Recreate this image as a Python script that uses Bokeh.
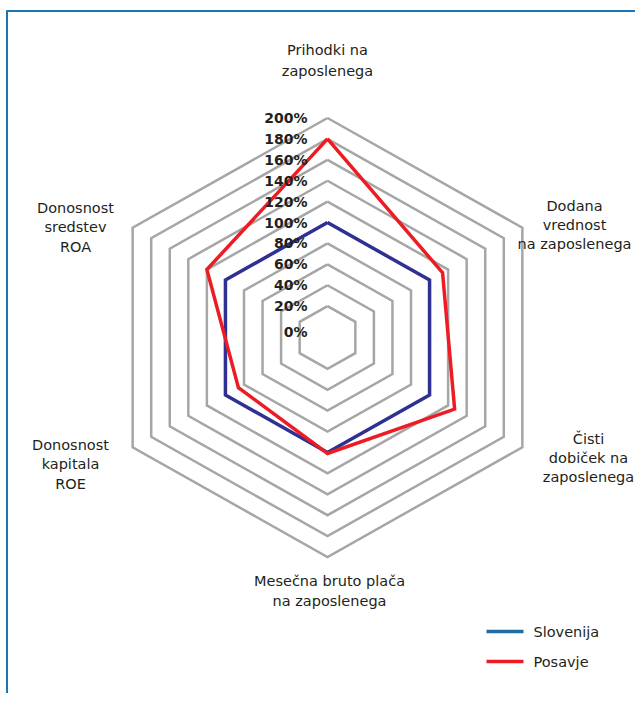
import math
from bokeh.plotting import figure
from bokeh.models import Range1d
from bokeh.core.properties import value
from bokeh.embed import file_html
from bokeh.resources import INLINE

# ---- data ----
categories = ["Prihodki na zaposlenega", "Dodana vrednost na zaposlenega",
              "Čisti dobiček na zaposlenega", "Mesečna bruto plača na zaposlenega",
              "Donosnost kapitala ROE", "Donosnost sredstev ROA"]
category_lines = [["Prihodki na", "zaposlenega"],
                  ["Dodana", "vrednost", "na zaposlenega"],
                  ["Čisti", "dobiček na", "zaposlenega"],
                  ["Mesečna bruto plača", "na zaposlenega"],
                  ["Donosnost", "kapitala", "ROE"],
                  ["Donosnost", "sredstev", "ROA"]]
slovenija = [100, 100, 100, 100, 100, 100]
posavje = [180, 114, 127, 101, 86, 120]
series_names = ["Slovenija", "Posavje"]
tick_values = [0, 20, 40, 60, 80, 100, 120, 140, 160, 180, 200]
tick_labels = ["0%", "20%", "40%", "60%", "80%", "100%", "120%", "140%", "160%", "180%", "200%"]

# ---- layout constants (1 data unit = 1 px, origin at chart centre) ----
W, H = 635, 693
CX, CY = 327, 337          # px of centre in the picture
VMIN, VMAX = -10, 200
RX, RY = 225, 219.5
angles = [90, 30, -30, -90, -150, 150]

FONT = value("DejaVu Sans")
TXT = "#231f20"

p = figure(width=W, height=H, output_backend="svg", toolbar_location=None,
           x_range=Range1d(-CX, W - CX), y_range=Range1d(CY - H, CY),
           min_border=0, outline_line_color=None, background_fill_color="white")
p.xaxis.visible = False
p.yaxis.visible = False
p.grid.visible = False


def pt(v, ang):
    f = (v - VMIN) / (VMAX - VMIN)
    a = math.radians(ang)
    return f * RX * math.cos(a), f * RY * math.sin(a)


# rings
for v in tick_values[1:]:
    xs, ys = zip(*[pt(v, a) for a in angles + angles[:1]])
    p.line(list(xs), list(ys), line_color="#a6a6a6", line_width=2.5, line_join="miter")

# series
for vals, col in [(slovenija, "#2e3192"), (posavje, "#ed1c24")]:
    pts = [pt(v, a) for v, a in zip(vals, angles)]
    pts.append(pts[0])
    xs, ys = zip(*pts)
    p.line(list(xs), list(ys), line_color=col, line_width=3.5, line_join="miter")

# tick labels
tx = [307 - CX] * len(tick_values)
ty = [pt(v, 90)[1] for v in tick_values]
ty[0] -= 5
p.text(tx, ty, text=tick_labels, text_align="right", text_baseline="middle",
       text_font=FONT, text_font_style="bold", text_font_size="14px", text_color=TXT)

# category labels (anchor px of first line centre, line spacing)
label_anchor = [(327, 49, 21), (574, 205, 19.3), (588, 438, 19),
                (329, 580, 20), (70, 444, 19.5), (75, 207, 19.7)]
for lines, (ax, ay, dy) in zip(category_lines, label_anchor):
    xs = [ax - CX] * len(lines)
    ys = [CY - (ay + i * dy) for i in range(len(lines))]
    p.text(xs, ys, text=lines, text_align="center", text_baseline="middle",
           text_font=FONT, text_font_size="14.5px", text_color=TXT)

# legend
leg_cols = ["#1f6c9e", "#ed1c24"]
leg_y = [631, 661]
for name, col, ly in zip(series_names, leg_cols, leg_y):
    p.line([486 - CX, 523 - CX], [CY - ly, CY - ly], line_color=col, line_width=3.5)
    p.text([533 - CX], [CY - ly], text=[name], text_align="left", text_baseline="middle",
           text_font=FONT, text_font_size="14.5px", text_color=TXT)

# frame lines (left and top)
p.line([6.5 - CX, 6.5 - CX], [CY - 701, CY - 10], line_color="#1b75b5", line_width=2)
p.line([6 - CX, 643 - CX], [CY - 10.5, CY - 10.5], line_color="#1b75b5", line_width=2)

open("out.html", "w").write(file_html(p, INLINE))
